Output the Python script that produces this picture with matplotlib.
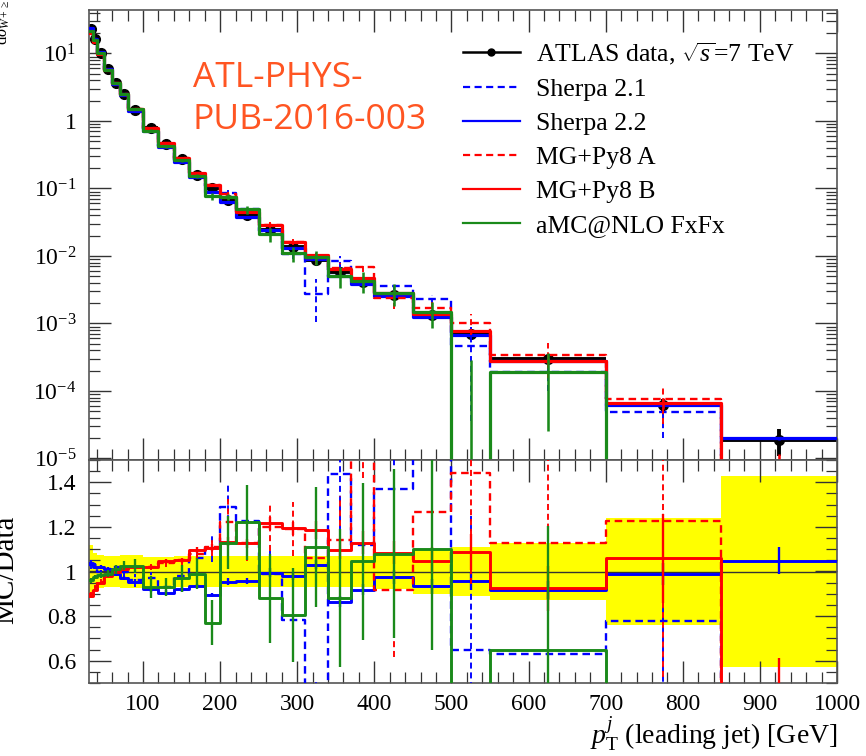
import numpy as np
import matplotlib.pyplot as plt
from matplotlib.ticker import MultipleLocator, LogLocator, NullFormatter, FuncFormatter
from matplotlib.lines import Line2D

plt.rcParams['font.family'] = ['Liberation Serif', 'DejaVu Serif']
plt.rcParams['mathtext.fontset'] = 'custom'
plt.rcParams['mathtext.rm'] = 'Liberation Serif'
plt.rcParams['mathtext.it'] = 'Liberation Serif:italic'
plt.rcParams['mathtext.bf'] = 'Liberation Serif:bold'

# binning of leading jet pT [GeV]
edges = np.array([30, 35, 40, 50, 60, 70, 80, 100, 120, 140, 160, 180, 200, 220,
                  250, 280, 310, 340, 370, 400, 450, 500, 550, 700, 850, 1000])

# ATLAS data and relative uncertainty
data = np.array([22.7, 16.1, 10.2, 5.8, 3.6, 2.47, 1.45, 0.774, 0.453, 0.269, 0.157,
                 0.100, 0.067, 0.040, 0.024, 0.0136, 0.00867, 0.0058, 0.00413,
                 0.00263, 0.00133, 7.1e-4, 3.0e-4, 6.2e-5, 1.9e-5])
data_err = np.array([0.12, 0.085, 0.075, 0.07, 0.07, 0.075, 0.075, 0.067, 0.067, 0.07,
                     0.07, 0.07, 0.07, 0.07, 0.07, 0.07, 0.07, 0.07, 0.07, 0.08, 0.10,
                     0.112, 0.127, 0.24, 0.43])

# MC / data ratios
r_sherpa21 = np.array([1.03, 1.03, 1.0, 1.01, 1.02, 1.0, 0.96, 0.97, 0.93, 0.98, 1.06,
                       1.104, 1.29, 1.228, 0.99, 0.784, 0.32, 1.437, 1.12, 1.368, 1.72,
                       0.65, 0.628, 0.78, 0.0])
e_sherpa21 = np.array([0.02, 0.02, 0.02, 0.02, 0.02, 0.03, 0.03, 0.03, 0.03, 0.04, 0.05,
                       0.06, 0.11, 0.06, 0.1, 0.12, 0.2, 0.3, 0.15, 0.2, 0.3, 0.6, 0.3,
                       0.45, 0.0])
r_sherpa22 = np.array([1.04, 1.02, 1.02, 1.01, 0.99, 0.97, 0.955, 0.92, 0.905, 0.92,
                       0.935, 0.895, 0.955, 0.958, 0.995, 0.98, 1.03, 0.865, 0.918,
                       0.975, 0.933, 0.958, 0.918, 0.99, 1.048])
e_sherpa22 = np.array([0.01, 0.01, 0.01, 0.01, 0.01, 0.01, 0.01, 0.01, 0.01, 0.01, 0.01,
                       0.01, 0.015, 0.015, 0.02, 0.02, 0.02, 0.025, 0.025, 0.03, 0.035,
                       0.04, 0.04, 0.05, 0.06])
r_mgA = np.array([0.9, 0.93, 0.955, 0.98, 1.0, 1.015, 1.02, 1.02, 1.04, 1.05, 1.08,
                  1.11, 1.224, 1.127, 1.2, 1.19, 1.06, 1.14, 1.67, 0.918, 1.265, 1.443,
                  1.127, 1.227, 0.0])
e_mgA = np.array([0.01, 0.01, 0.01, 0.01, 0.01, 0.01, 0.015, 0.015, 0.02, 0.02, 0.03,
                  0.04, 0.1, 0.08, 0.11, 0.12, 0.2, 0.2, 0.25, 0.3, 0.35, 0.5, 0.6,
                  0.7, 0.0])
r_mgB = np.array([0.888, 0.918, 0.948, 0.978, 1.0, 1.01, 1.02, 1.022, 1.045, 1.05,
                  1.097, 1.107, 1.134, 1.127, 1.216, 1.194, 1.186, 1.097, 1.13, 1.085,
                  1.048, 1.087, 0.925, 1.06, -0.1])
e_mgB = np.array([0.005, 0.005, 0.005, 0.005, 0.005, 0.005, 0.005, 0.005, 0.01, 0.01,
                  0.015, 0.015, 0.02, 0.02, 0.03, 0.03, 0.04, 0.04, 0.05, 0.05, 0.06,
                  0.08, 0.1, 0.2, 0.71])
r_amc = np.array([0.96, 0.975, 0.985, 0.99, 1.01, 1.025, 1.025, 0.93, 0.93, 0.97, 0.99,
                  0.77, 1.13, 1.22, 0.88, 0.805, 1.11, 0.88, 1.045, 1.08, 1.10, -0.14,
                  0.646, 0.0, 0.0])
e_amc = np.array([0.01, 0.01, 0.015, 0.015, 0.02, 0.02, 0.03, 0.05, 0.04, 0.06, 0.07,
                  0.1, 0.12, 0.17, 0.2, 0.21, 0.27, 0.31, 0.35, 0.38, 0.45, 0.55, 0.56,
                  0.0, 0.0])

labels = ['Sherpa 2.1', 'Sherpa 2.2', 'MG+Py8 A', 'MG+Py8 B', 'aMC@NLO FxFx']
colors = ['#0000ff', '#0000ff', '#ff0000', '#ff0000', '#1a8a1a']
dashed = [True, False, True, False, False]
ratios = [r_sherpa21, r_sherpa22, r_mgA, r_mgB, r_amc]
errors = [e_sherpa21, e_sherpa22, e_mgA, e_mgB, e_amc]

centers = 0.5 * (edges[1:] + edges[:-1])
half = 0.5 * np.diff(edges)
DASH = (0, (3.2, 2.0))


def steps(vals):
    return np.repeat(edges, 2)[1:-1], np.repeat(vals, 2)


fig = plt.figure(figsize=(8.66, 7.56), dpi=100)
ax1 = fig.add_axes([89 / 866, 1 - 460 / 756, 748 / 866, 450 / 756])
ax2 = fig.add_axes([89 / 866, 1 - 683 / 756, 748 / 866, 223 / 756])

# ---- top panel
ax1.set_yscale('log')
ax1.errorbar(centers, data, yerr=data * data_err, xerr=half, fmt='o', color='k',
             ms=7, elinewidth=2.8, capsize=0, zorder=2)
for r, e, c, d in zip(ratios, errors, colors, dashed):
    ls = DASH if d else '-'
    lw = 1.7 if d else 2.3
    xs, ys = steps(data * r)
    ax1.plot(xs, ys, color=c, lw=lw, ls=ls, zorder=3)
    m = e > 0
    ax1.vlines(centers[m], (data * (r - e))[m], (data * (r + e))[m], color=c,
               lw=lw * 0.8, linestyles=ls, zorder=3)

ax1.set_xlim(30, 1000)
ax1.set_ylim(0.95e-5, 44)
ax1.xaxis.set_major_locator(MultipleLocator(100))
ax1.xaxis.set_minor_locator(MultipleLocator(20))
ax1.xaxis.set_major_formatter(NullFormatter())
ax1.yaxis.set_major_locator(LogLocator(base=10, numticks=20))
ax1.yaxis.set_minor_locator(LogLocator(base=10, subs=np.arange(2, 10), numticks=20))
ax1.yaxis.set_minor_formatter(NullFormatter())


def logfmt(v, pos):
    e = int(round(np.log10(v)))
    return '1' if e == 0 else r'$10^{%d}$' % e


ax1.yaxis.set_major_formatter(FuncFormatter(logfmt))

handles = [Line2D([], [], color='k', marker='o', ms=5, lw=1.8)]
for c, d in zip(colors, dashed):
    handles.append(Line2D([], [], color=c, lw=1.6, ls=DASH if d else '-'))
ax1.legend(handles, [r'ATLAS data, $\sqrt{s}$=7 TeV'] + labels, loc='upper left',
           bbox_to_anchor=(463 / 866, 1 - 40 / 756), bbox_transform=fig.transFigure,
           frameon=False, fontsize=18.5, handlelength=2.2, handletextpad=0.65,
           labelspacing=0.43, borderpad=0, borderaxespad=0)

ax1.text(193 / 866, 1 - 61 / 756, 'ATL-PHYS-\nPUB-2016-003', transform=fig.transFigure,
         family='Open Sans', fontsize=25.5, color='#ff5522', va='top', ha='left',
         linespacing=1.3)

# ---- ratio panel
ax2.stairs(1 + data_err, edges, baseline=1 - data_err, fill=True, color='#ffff00',
           lw=0, zorder=1)
ax2.axhline(1, color='#333333', lw=1.0, zorder=2)
for r, e, c, d in zip(ratios, errors, colors, dashed):
    ls = DASH if d else '-'
    lw = 1.7 if d else 2.1
    xs, ys = steps(r)
    ax2.plot(xs, ys, color=c, lw=lw, ls=ls, zorder=3)
    m = e > 0
    ax2.vlines(centers[m], (r - e)[m], (r + e)[m], color=c, lw=lw * 0.8,
               linestyles=ls, zorder=3)

ax2.set_xlim(30, 1000)
ax2.set_ylim(0.5, 1.5)
ax2.xaxis.set_major_locator(MultipleLocator(100))
ax2.xaxis.set_minor_locator(MultipleLocator(20))
ax2.yaxis.set_major_locator(MultipleLocator(0.2))
ax2.yaxis.set_minor_locator(MultipleLocator(0.05))
ax2.yaxis.set_major_formatter(FuncFormatter(lambda v, p: '%g' % round(v, 2)))
ax2.set_xlabel(r'$p_\mathrm{T}^{j}$ (leading jet) [GeV]', fontsize=20, loc='right',
               labelpad=0)

for ax in (ax1, ax2):
    ax.tick_params(which='both', direction='in', top=True, right=True,
                   labelsize=17, color='#333333')
    ax.tick_params(which='major', length=16, width=1.0)
    ax.tick_params(which='minor', length=8, width=0.9)
    ax.tick_params(axis='y', which='major', pad=9)
    ax.tick_params(axis='x', which='major', pad=8)
    for s in ax.spines.values():
        s.set_color('#555555')
        s.set_linewidth(1.2)

fig.text(0.005, 1 - 45 / 756, r'$\mathrm{d}\sigma_{W+\geq 1j}/\mathrm{d}p_\mathrm{T}$ [pb/GeV]',
         rotation=90, va='bottom', ha='center', fontsize=12)
fig.text(0.007, 1 - 570 / 756, 'MC/Data', rotation=90, va='center', ha='center',
         fontsize=21)

fig.savefig('out.png', dpi=100)
